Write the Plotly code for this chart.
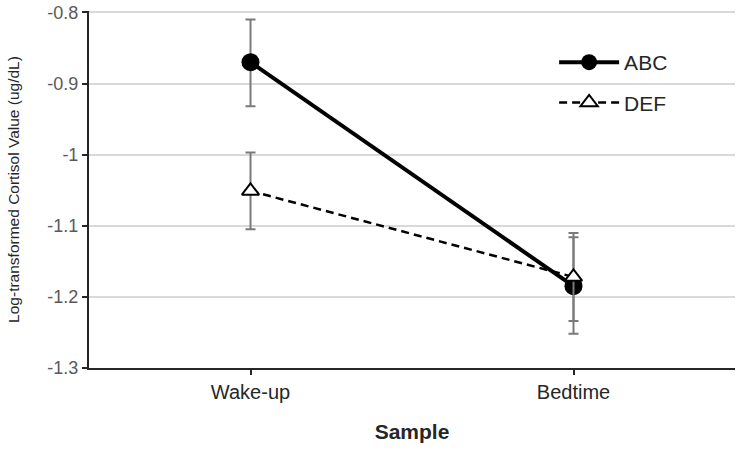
import plotly.graph_objects as go

categories = ["Wake-up", "Bedtime"]
abc_values = [-0.870, -1.185]
abc_err_plus = [0.060, 0.069]
abc_err_minus = [0.062, 0.067]
def_values = [-1.051, -1.172]
def_err_plus = [0.054, 0.062]
def_err_minus = [0.054, 0.062]
y_ticks = [-0.8, -0.9, -1.0, -1.1, -1.2, -1.3]
y_tick_labels = ["-0.8", "-0.9", "-1", "-1.1", "-1.2", "-1.3"]

fig = go.Figure()
fig.add_trace(go.Scatter(
    x=categories, y=abc_values, name="ABC", mode="lines+markers",
    legendgroup="a",
    line=dict(color="black", width=4),
    marker=dict(symbol="circle", size=18, color="black"),
    error_y=dict(type="data", array=abc_err_plus, arrayminus=abc_err_minus,
                 color="#7a7a7a", thickness=2, width=5),
))
fig.add_trace(go.Scatter(
    x=categories, y=def_values, name="DEF", mode="lines+markers",
    legendgroup="b",
    line=dict(color="black", width=2.5, dash="8px,5px"),
    marker=dict(symbol="triangle-up", size=15, color="white",
                line=dict(color="black", width=2)),
    error_y=dict(type="data", array=def_err_plus, arrayminus=def_err_minus,
                 color="#7a7a7a", thickness=2, width=5),
))

fig.update_layout(
    width=750, height=452,
    margin=dict(l=89, r=15, t=11, b=84),
    paper_bgcolor="white", plot_bgcolor="white",
    font=dict(family="Liberation Sans, Arial, sans-serif", color="#404040"),
    showlegend=True,
    legend=dict(x=0.72, y=0.913, xanchor="left", yanchor="top",
                bgcolor="rgba(0,0,0,0)", font=dict(size=21, color="#262626"),
                itemwidth=60, tracegroupgap=10),
    xaxis=dict(
        type="category", range=[-0.5, 1.5], automargin=False,
        showline=True, linecolor="#262626", linewidth=2,
        ticks="outside", ticklen=5, tickcolor="#262626", tickwidth=2,
        tickfont=dict(size=20, color="#262626"),
        showgrid=False, zeroline=False,
        title=dict(text="<b>Sample</b>", font=dict(size=21, color="#262626"), standoff=22),
    ),
    yaxis=dict(
        range=[-1.3, -0.798], tickvals=y_ticks, ticktext=y_tick_labels,
        automargin=False, ticklabeloverflow="allow",
        showline=True, linecolor="#262626", linewidth=2,
        ticks="outside", ticklen=5, tickcolor="#262626", tickwidth=2,
        tickfont=dict(size=18, color="#595959"),
        showgrid=True, gridcolor="#d9d9d9", gridwidth=2, zeroline=False,
        title=dict(text="Log-transformed Cortisol Value (ug/dL)",
                   font=dict(size=15.5, color="#262626"), standoff=24),
    ),
)

fig.write_html("out.html", config={"displayModeBar": False},
               post_script="document.body.style.margin='0';")
